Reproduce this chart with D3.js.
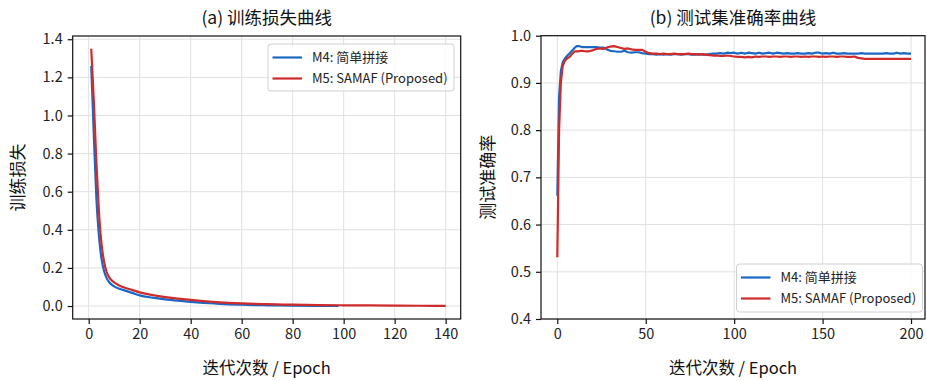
<!DOCTYPE html>
<html><head><meta charset="utf-8">
<script src="https://cdn.jsdelivr.net/npm/d3@7"></script>
<style>
body{margin:0;background:#fff;}
svg{display:block;font-family:"Noto Sans CJK SC","Noto Sans",sans-serif;}
</style></head>
<body><svg id="c" width="927" height="381"></svg>
<script>
// ---- data ----
const seriesNames = ["M4: 简单拼接", "M5: SAMAF (Proposed)"];
const seriesColors = ["#1a68c4", "#cf2b2b"];

const lossEpochsM4 = [1,2,3,4,5,6,7,8,9,10,12,14,17,20,25,30,35,40,45,50,60,70,80,90,98];
const lossM4 = [1.26,0.90,0.57,0.37,0.25,0.185,0.148,0.126,0.112,0.103,0.091,0.082,0.069,0.056,0.044,0.035,0.028,0.022,0.017,0.013,0.007,0.004,0.002,0.001,0.001];

const lossEpochsM5 = [1,2,3,4,5,6,7,8,9,10,12,14,17,20,25,30,35,40,45,50,60,70,80,90,100,110,120,130,140];
const lossM5 = [1.35,1.08,0.76,0.50,0.33,0.235,0.18,0.152,0.135,0.124,0.108,0.097,0.085,0.072,0.058,0.047,0.039,0.032,0.026,0.021,0.014,0.010,0.007,0.005,0.004,0.003,0.002,0.0015,0.001];

const accEpochs = [0,1,2,3,4,5,6,7,8,9,10,11,12,13,14,
 16,18,20,22,24,26,28,30,32,34,36,38,40,42,44,46,48,50,
 52,54,56,58,60,62,64,66,68,70,72,74,76,78,80,82,84,86,88,90,92,94,96,98,100,
 102,104,106,108,110,112,114,116,118,120,122,124,126,128,130,132,134,136,138,140,142,144,146,148,150,
 152,154,156,158,160,162,164,166,168,170,172,174,176,178,180,182,184,186,188,190,192,194,196,198,200];
const accM4 = [0.661,0.870,0.925,0.943,0.950,0.955,0.959,0.963,0.967,0.971,0.975,0.978,0.978,0.977,0.976,
 0.976,0.976,0.976,0.976,0.975,0.975,0.971,0.968,0.967,0.966,0.966,0.968,0.965,0.964,0.965,0.965,0.963,0.962,
 0.961,0.961,0.960,0.961,0.960,0.961,0.960,0.961,0.961,0.960,0.961,0.961,0.960,0.960,0.961,0.960,0.960,0.961,0.962,0.962,0.963,0.962,0.964,0.963,0.964,
 0.962,0.964,0.962,0.964,0.963,0.962,0.964,0.962,0.963,0.964,0.962,0.964,0.963,0.962,0.963,0.962,0.962,0.963,0.962,0.962,0.963,0.962,0.964,0.964,0.962,
 0.963,0.962,0.964,0.962,0.962,0.963,0.962,0.962,0.962,0.962,0.963,0.962,0.962,0.962,0.962,0.962,0.962,0.963,0.962,0.962,0.964,0.962,0.963,0.962,0.962];
const accM5 = [0.531,0.800,0.900,0.935,0.945,0.950,0.953,0.955,0.960,0.964,0.967,0.967,0.967,0.968,0.968,
 0.967,0.967,0.969,0.972,0.973,0.972,0.975,0.977,0.978,0.976,0.974,0.972,0.973,0.971,0.970,0.970,0.970,0.966,
 0.963,0.962,0.962,0.961,0.962,0.961,0.961,0.962,0.961,0.961,0.961,0.962,0.961,0.961,0.960,0.961,0.960,0.959,0.958,0.958,0.957,0.957,0.958,0.957,0.956,
 0.955,0.955,0.954,0.955,0.954,0.956,0.955,0.956,0.956,0.955,0.956,0.956,0.955,0.956,0.956,0.955,0.956,0.956,0.955,0.956,0.955,0.956,0.956,0.955,0.956,
 0.955,0.956,0.956,0.955,0.956,0.956,0.955,0.955,0.956,0.953,0.952,0.951,0.951,0.951,0.951,0.951,0.951,0.951,0.951,0.951,0.951,0.951,0.951,0.951,0.951];

const lossXTicks = [0,20,40,60,80,100,120,140];
const lossYTicks = [0.0,0.2,0.4,0.6,0.8,1.0,1.2,1.4];
const accXTicks = [0,50,100,150,200];
const accYTicks = [0.4,0.5,0.6,0.7,0.8,0.9,1.0];

const titles = ["(a) 训练损失曲线", "(b) 测试集准确率曲线"];
const xLabel = "迭代次数 / Epoch";
const yLabels = ["训练损失", "测试准确率"];

// ---- drawing ----
const svg = d3.select("#c");

function panel(opt){
  const {x0,x1,y0,y1,xDom,yDom,xTicks,yTicks,yFmt,series,title,ylab,ylabX,legend,curve} = opt;
  const x = d3.scaleLinear().domain(xDom).range([x0,x1]);
  const y = d3.scaleLinear().domain(yDom).range([y1,y0]);
  const g = svg.append("g");
  // grid
  g.append("g").selectAll("line").data(xTicks).join("line")
    .attr("x1",d=>x(d)).attr("x2",d=>x(d)).attr("y1",y0).attr("y2",y1)
    .attr("stroke","#e0e0e0").attr("stroke-width",1);
  g.append("g").selectAll("line").data(yTicks).join("line")
    .attr("y1",d=>y(d)).attr("y2",d=>y(d)).attr("x1",x0).attr("x2",x1)
    .attr("stroke","#e0e0e0").attr("stroke-width",1);
  // clip
  const cid = "clip"+Math.round(x0);
  svg.append("clipPath").attr("id",cid).append("rect").attr("x",x0).attr("y",y0).attr("width",x1-x0).attr("height",y1-y0);
  const lines = g.append("g").attr("clip-path",`url(#${cid})`);
  series.forEach((s,i)=>{
    const pts = s.xs.map((e,k)=>[e,s.ys[k]]);
    lines.append("path").datum(pts)
      .attr("d", d3.line().x(d=>x(d[0])).y(d=>y(d[1])).curve(curve))
      .attr("fill","none").attr("stroke",seriesColors[i]).attr("stroke-width",2.2)
      .attr("stroke-linejoin","round").attr("stroke-linecap","butt");
  });
  // axes
  const ax = g.append("g").attr("transform",`translate(0,${y1})`)
    .call(d3.axisBottom(x).tickValues(xTicks).tickSize(5).tickPadding(5).tickFormat(d3.format("d")));
  const ay = g.append("g").attr("transform",`translate(${x0},0)`)
    .call(d3.axisLeft(y).tickValues(yTicks).tickSize(5).tickPadding(5).tickFormat(yFmt));
  [ax,ay].forEach(a=>{
    a.select(".domain").remove();
    a.selectAll(".tick line").attr("stroke","#111").attr("stroke-width",1.2);
    a.selectAll(".tick text").attr("fill","#222").style("font-size","14.5px")
      .style("font-family",'"Noto Sans CJK SC","Noto Sans",sans-serif');
  });
  // frame
  g.append("rect").attr("x",x0).attr("y",y0).attr("width",x1-x0).attr("height",y1-y0)
    .attr("fill","none").attr("stroke","#111").attr("stroke-width",1.2);
  // title & labels
  g.append("text").attr("x",(x0+x1)/2).attr("y",y0-12).attr("text-anchor","middle")
    .attr("fill","#111").style("font-size","17.5px").text(title);
  g.append("text").attr("x",(x0+x1)/2).attr("y",374).attr("text-anchor","middle")
    .attr("fill","#111").style("font-size","16.5px").text(xLabel);
  g.append("text").attr("transform",`translate(${ylabX},${(y0+y1)/2}) rotate(-90)`)
    .attr("text-anchor","middle").attr("dy","0.35em")
    .attr("fill","#111").style("font-size","17px").text(ylab);
  // legend
  const L = g.append("g");
  L.append("rect").attr("x",legend.x).attr("y",legend.y).attr("width",legend.w).attr("height",legend.h)
    .attr("rx",3).attr("fill","#fff").attr("fill-opacity",0.85).attr("stroke","#d0d0d0").attr("stroke-width",1);
  seriesNames.forEach((n,i)=>{
    const yy = legend.y + 13.5 + i*21;
    L.append("line").attr("x1",legend.x+4.5).attr("x2",legend.x+34).attr("y1",yy).attr("y2",yy)
      .attr("stroke",seriesColors[i]).attr("stroke-width",2.2);
    L.append("text").attr("x",legend.x+44).attr("y",yy).attr("dy","0.35em")
      .attr("fill","#222").style("font-size","13px").text(n);
  });
}

panel({x0:72.7,x1:460.7,y0:36,y1:319,xDom:[-6.27,145.9],yDom:[-0.068,1.417],
  xTicks:lossXTicks,yTicks:lossYTicks,yFmt:d3.format(".1f"),
  series:[{xs:lossEpochsM4,ys:lossM4},{xs:lossEpochsM5,ys:lossM5}],
  title:titles[0],ylab:yLabels[0],ylabX:18,
  legend:{x:268,y:44,w:186,h:47},curve:d3.curveMonotoneX});

panel({x0:541,x1:925,y0:35.7,y1:319,xDom:[-9.22,207.9],yDom:[0.4,1.0],
  xTicks:accXTicks,yTicks:accYTicks,yFmt:d3.format(".1f"),
  series:[{xs:accEpochs,ys:accM4},{xs:accEpochs,ys:accM5}],
  title:titles[1],ylab:yLabels[1],ylabX:488,
  legend:{x:736.5,y:264,w:186,h:48},curve:d3.curveLinear});
</script></body></html>
